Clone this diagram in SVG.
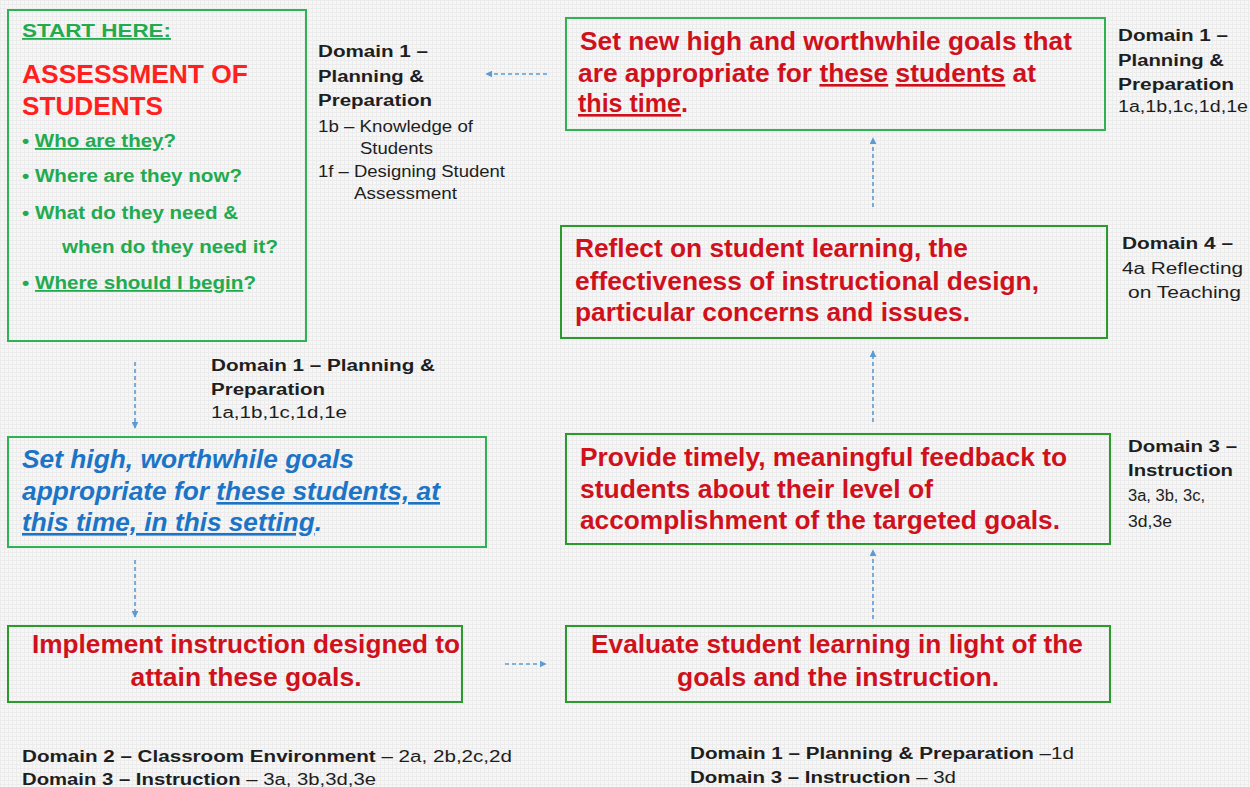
<svg xmlns="http://www.w3.org/2000/svg" width="1250" height="787" viewBox="0 0 1250 787">
<defs>
<pattern id="grid" width="4" height="4" patternUnits="userSpaceOnUse">
<rect width="4" height="4" fill="#f6f6f6"/>
<path d="M0 0.5H4M0.5 0V4" stroke="#ececec" stroke-width="1"/>
</pattern>
<marker id="ah" viewBox="0 0 10 10" refX="9" refY="5" markerWidth="7" markerHeight="7" orient="auto" markerUnits="userSpaceOnUse">
<path d="M0 0L10 5L0 10z" fill="#5b9bd5"/>
</marker>
<style>
.box1{fill:none;stroke:#2fb352;stroke-width:2}
.box2{fill:none;stroke:#2a9a2a;stroke-width:2}
.red{font-family:"Liberation Sans",Arial,sans-serif;font-weight:bold;font-size:26px;fill:#d0111c}
.blue{font-family:"Liberation Sans",Arial,sans-serif;font-weight:bold;font-style:italic;font-size:26px;fill:#1c74c6}
.grn{font-family:"Liberation Sans",Arial,sans-serif;font-weight:bold;font-size:18px;fill:#22aa4f}
.hd{font-family:"Liberation Sans",Arial,sans-serif;font-weight:bold;font-size:25px;fill:#ff1f1f}
.dm{font-family:"Liberation Sans",Arial,sans-serif;font-size:16px;fill:#1e1e1e}
.b{font-weight:bold}
.u{text-decoration:underline}
.conn{fill:none;stroke:#5b9bd5;stroke-width:1.6;stroke-dasharray:4 3;marker-end:url(#ah)}
</style>
</defs>
<rect width="1250" height="787" fill="url(#grid)"/>

<g id="connectors">
<line class="conn" x1="547" y1="74" x2="486" y2="74"/>
<line class="conn" x1="873" y1="207" x2="873" y2="138"/>
<line class="conn" x1="873" y1="422" x2="873" y2="351"/>
<line class="conn" x1="873" y1="619" x2="873" y2="550"/>
<line class="conn" x1="505" y1="664" x2="546" y2="664"/>
<line class="conn" x1="135" y1="560" x2="135" y2="617"/>
<line class="conn" x1="135" y1="362" x2="135" y2="428"/>
</g>

<g id="assessment">
<rect class="box1" x="8" y="10" width="298" height="331"/>
<text class="grn" x="22" y="37" font-size="22" textLength="149" lengthAdjust="spacingAndGlyphs"><tspan class="u">START HERE:</tspan></text>
<text class="hd" x="22" y="83" textLength="226" lengthAdjust="spacingAndGlyphs">ASSESSMENT OF</text>
<text class="hd" x="22" y="115" textLength="141" lengthAdjust="spacingAndGlyphs">STUDENTS</text>
<text class="grn" x="22" y="147" textLength="154" lengthAdjust="spacingAndGlyphs">• <tspan class="u">Who are they</tspan>?</text>
<text class="grn" x="22" y="182" textLength="220" lengthAdjust="spacingAndGlyphs">• Where are they now?</text>
<text class="grn" x="22" y="219" textLength="216" lengthAdjust="spacingAndGlyphs">• What do they need &amp;</text>
<text class="grn" x="62" y="253" textLength="216" lengthAdjust="spacingAndGlyphs">when do they need it?</text>
<text class="grn" x="22" y="289" textLength="234" lengthAdjust="spacingAndGlyphs">• <tspan class="u">Where should I begin</tspan>?</text>
</g>

<g id="domain-assessment">
<text class="dm b" x="318" y="57" textLength="110" lengthAdjust="spacingAndGlyphs">Domain 1 –</text>
<text class="dm b" x="318" y="82" textLength="106" lengthAdjust="spacingAndGlyphs">Planning &amp;</text>
<text class="dm b" x="318" y="106" textLength="114" lengthAdjust="spacingAndGlyphs">Preparation</text>
<text class="dm" x="318" y="132" textLength="155" lengthAdjust="spacingAndGlyphs">1b – Knowledge of</text>
<text class="dm" x="360" y="154" textLength="73" lengthAdjust="spacingAndGlyphs">Students</text>
<text class="dm" x="318" y="177" textLength="187" lengthAdjust="spacingAndGlyphs">1f – Designing Student</text>
<text class="dm" x="354" y="199" textLength="103" lengthAdjust="spacingAndGlyphs">Assessment</text>
</g>

<g id="set-new-goals">
<rect class="box1" x="566" y="18" width="539" height="112"/>
<text class="red" x="580" y="50" textLength="492" lengthAdjust="spacingAndGlyphs">Set new high and worthwhile goals that</text>
<text class="red" x="578" y="82" textLength="458" lengthAdjust="spacingAndGlyphs">are appropriate for <tspan class="u">these</tspan> <tspan class="u">students</tspan> at</text>
<text class="red" x="578" y="112" textLength="110" lengthAdjust="spacingAndGlyphs"><tspan class="u">this time</tspan>.</text>
</g>

<g id="domain-new-goals">
<text class="dm b" x="1118" y="41" textLength="110" lengthAdjust="spacingAndGlyphs">Domain 1 –</text>
<text class="dm b" x="1118" y="66" textLength="106" lengthAdjust="spacingAndGlyphs">Planning &amp;</text>
<text class="dm b" x="1118" y="90" textLength="116" lengthAdjust="spacingAndGlyphs">Preparation</text>
<text class="dm" x="1118" y="112" textLength="130" lengthAdjust="spacingAndGlyphs">1a,1b,1c,1d,1e</text>
</g>

<g id="reflect">
<rect class="box2" x="561" y="226" width="546" height="112"/>
<text class="red" x="575" y="257" textLength="393" lengthAdjust="spacingAndGlyphs">Reflect on student learning, the</text>
<text class="red" x="575" y="290" textLength="464" lengthAdjust="spacingAndGlyphs">effectiveness of instructional design,</text>
<text class="red" x="575" y="321" textLength="395" lengthAdjust="spacingAndGlyphs">particular concerns and issues.</text>
</g>

<g id="domain-reflect">
<text class="dm b" x="1122" y="249" textLength="111" lengthAdjust="spacingAndGlyphs">Domain 4 –</text>
<text class="dm" x="1122" y="274" textLength="121" lengthAdjust="spacingAndGlyphs">4a Reflecting</text>
<text class="dm" x="1128" y="298" textLength="113" lengthAdjust="spacingAndGlyphs">on Teaching</text>
</g>

<g id="feedback">
<rect class="box2" x="566" y="434" width="544" height="110"/>
<text class="red" x="580" y="466" textLength="487" lengthAdjust="spacingAndGlyphs">Provide timely, meaningful feedback to</text>
<text class="red" x="580" y="498" textLength="353" lengthAdjust="spacingAndGlyphs">students about their level of</text>
<text class="red" x="580" y="529" textLength="480" lengthAdjust="spacingAndGlyphs">accomplishment of the targeted goals.</text>
</g>

<g id="domain-feedback">
<text class="dm b" x="1128" y="452" textLength="109" lengthAdjust="spacingAndGlyphs">Domain 3 –</text>
<text class="dm b" x="1128" y="476" textLength="105" lengthAdjust="spacingAndGlyphs">Instruction</text>
<text class="dm" x="1128" y="501" textLength="77" lengthAdjust="spacingAndGlyphs">3a, 3b, 3c,</text>
<text class="dm" x="1128" y="527" textLength="44" lengthAdjust="spacingAndGlyphs">3d,3e</text>
</g>

<g id="set-goals">
<rect class="box1" x="8" y="437" width="478" height="110"/>
<text class="blue" x="22" y="468" textLength="332" lengthAdjust="spacingAndGlyphs">Set high, worthwhile goals</text>
<text class="blue" x="22" y="500" textLength="418" lengthAdjust="spacingAndGlyphs">appropriate for <tspan class="u">these students, at</tspan></text>
<text class="blue" x="22" y="531" textLength="300" lengthAdjust="spacingAndGlyphs"><tspan class="u">this time, in this setting</tspan>.</text>
</g>

<g id="domain-set-goals">
<text class="dm b" x="211" y="371" textLength="224" lengthAdjust="spacingAndGlyphs">Domain 1 – Planning &amp;</text>
<text class="dm b" x="211" y="395" textLength="114" lengthAdjust="spacingAndGlyphs">Preparation</text>
<text class="dm" x="211" y="418" textLength="136" lengthAdjust="spacingAndGlyphs">1a,1b,1c,1d,1e</text>
</g>

<g id="implement">
<rect class="box2" x="8" y="626" width="454" height="76"/>
<text class="red" x="246" y="653" text-anchor="middle" textLength="428" lengthAdjust="spacingAndGlyphs">Implement instruction designed to</text>
<text class="red" x="246" y="686" text-anchor="middle" textLength="231" lengthAdjust="spacingAndGlyphs">attain these goals.</text>
</g>

<g id="domain-implement">
<text class="dm" x="22" y="762" textLength="490" lengthAdjust="spacingAndGlyphs"><tspan class="b">Domain 2 – Classroom Environment</tspan>  – 2a, 2b,2c,2d</text>
<text class="dm" x="22" y="785" textLength="354" lengthAdjust="spacingAndGlyphs"><tspan class="b">Domain 3 – Instruction</tspan> – 3a, 3b,3d,3e</text>
</g>

<g id="evaluate">
<rect class="box2" x="566" y="626" width="544" height="76"/>
<text class="red" x="837" y="653" text-anchor="middle" textLength="492" lengthAdjust="spacingAndGlyphs">Evaluate student learning in light of the</text>
<text class="red" x="838" y="686" text-anchor="middle" textLength="322" lengthAdjust="spacingAndGlyphs">goals and the instruction.</text>
</g>

<g id="domain-evaluate">
<text class="dm" x="690" y="759" textLength="384" lengthAdjust="spacingAndGlyphs"><tspan class="b">Domain 1 – Planning &amp; Preparation</tspan> –1d</text>
<text class="dm" x="690" y="783" textLength="266" lengthAdjust="spacingAndGlyphs"><tspan class="b">Domain 3 – Instruction</tspan> – 3d</text>
</g>
</svg>
